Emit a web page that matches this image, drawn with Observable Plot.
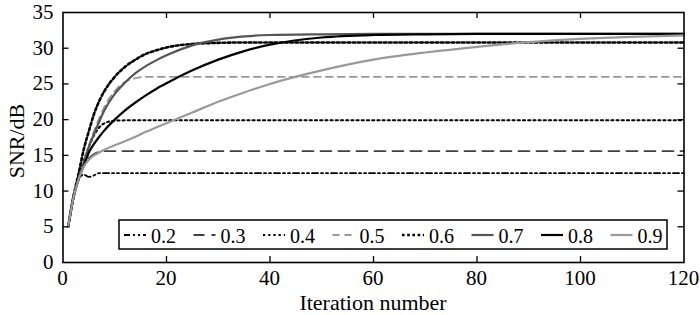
<!DOCTYPE html>
<html><head><meta charset="utf-8">
<script src="https://cdn.jsdelivr.net/npm/d3@7"></script>
<script src="https://cdn.jsdelivr.net/npm/@observablehq/plot@0.6"></script>
<style>body{margin:0;background:#fff} #wrap{position:relative;width:700px;height:315px} #wrap svg{display:block} #overlay{position:absolute;left:0;top:0;pointer-events:none}</style>
</head><body><div id="wrap"></div>
<script>
const iterations = [1,2,3,4,5,6,7,8,10,12,14,16,18,20,25,30,35,40,50,60,70,80,90,100,110,120];
const seriesNames = ["0.2","0.3","0.4","0.5","0.6","0.7","0.8","0.9"];
const snr02 = [5,9.0,11.5,12.3,12.0,12.2,12.5,12.5,12.5,12.5,12.5,12.5,12.5,12.5,12.5,12.5,12.5,12.5,12.5,12.5,12.5,12.5,12.5,12.5,12.5,12.5];
const snr03 = [5,9.0,11.8,13.6,14.6,15.2,15.5,15.6,15.6,15.6,15.6,15.6,15.6,15.6,15.6,15.6,15.6,15.6,15.6,15.6,15.6,15.6,15.6,15.6,15.6,15.6];
const snr04 = [5,9.0,11.9,14.2,16.2,17.8,18.9,19.5,19.85,19.9,19.9,19.9,19.9,19.9,19.9,19.9,19.9,19.9,19.9,19.9,19.9,19.9,19.9,19.9,19.9,19.9];
const snr05 = [5,9.0,12.0,14.2,16.4,18.4,20.2,21.8,24.0,25.3,25.8,26.0,26.0,26.0,26.0,26.0,26.0,26.0,26.0,26.0,26.0,26.0,26.0,26.0,26.0,26.0];
const snr06 = [5,9.2,12.4,15.8,18.4,20.8,22.6,24.0,26.0,27.4,28.4,29.2,29.7,30.1,30.6,30.75,30.8,30.8,30.8,30.8,30.8,30.8,30.8,30.8,30.8,30.8];
const snr07 = [5,9.0,11.8,13.8,16.2,18.0,19.7,21.3,23.6,25.2,26.5,27.5,28.3,29.0,30.4,31.2,31.65,31.85,31.95,32.0,32.0,32.0,32.0,32.0,32.0,32.0];
const snr08 = [5,9.0,11.6,13.5,15.4,16.6,17.6,18.5,20.0,21.3,22.4,23.4,24.3,25.1,26.9,28.4,29.6,30.5,31.5,31.85,31.95,32.0,32.0,32.0,32.0,32.0];
const snr09 = [5,9.0,11.6,13.4,14.4,15.0,15.4,15.8,16.4,17.0,17.6,18.3,18.9,19.5,21.0,22.5,23.8,25.0,26.9,28.4,29.4,30.2,30.85,31.3,31.6,31.8];
const seriesValues = [snr02,snr03,snr04,snr05,snr06,snr07,snr08,snr09];
const xTicks = [0,20,40,60,80,100,120];
const yTicks = [0,5,10,15,20,25,30,35];
const xLabel = "Iteration number";
const yLabel = "SNR/dB";

const lineStyles = [
  {stroke:"#000", dash:"6,3,2,3,2,3", w:1.8},
  {stroke:"#404040", dash:"11,7", w:1.8},
  {stroke:"#000", dash:"2.2,3", w:2},
  {stroke:"#999", dash:"7,5", w:1.8},
  {stroke:"#000", dash:"2.6,2.6", w:2.6},
  {stroke:"#555", dash:null, w:2.2},
  {stroke:"#000", dash:null, w:2.2},
  {stroke:"#999", dash:null, w:2.2}
];

const FONT = "Liberation Serif";
const W = 700, H = 315, mL = 62.5, mR = 16.5, mT = 12, mB = 53;
const plotH = H - mT - mB, plotW = W - mL - mR, tk = 6;
const innerX = xTicks.slice(1, -1), innerY = yTicks.slice(1, -1);

const rows = seriesNames.map((name, s) => iterations.map((it, i) => ({series: name, it, v: seriesValues[s][i]})));

const lineMarks = rows.map((data, s) => Plot.line(data, {
  x: "it", y: "v", curve: "monotone-x",
  stroke: lineStyles[s].stroke, strokeWidth: lineStyles[s].w,
  strokeDasharray: lineStyles[s].dash || undefined
}));

const chart = Plot.plot({
  width: W, height: H, marginLeft: mL, marginRight: mR, marginTop: mT, marginBottom: mB,
  x: {domain: [0, 120], ticks: xTicks},
  y: {domain: [0, 35], ticks: yTicks},
  marks: [
    Plot.axisX({ticks: xTicks, tickSize: 0, tickFormat: () => "", label: null}),
    Plot.axisY({ticks: yTicks, tickSize: 0, tickFormat: () => "", label: null}),
    ...lineMarks,
    Plot.tickX(innerX, {x: d => d, insetTop: plotH - tk, stroke: "#000", strokeWidth: 1.3}),
    Plot.tickX(innerX, {x: d => d, insetBottom: plotH - tk, stroke: "#000", strokeWidth: 1.3}),
    Plot.tickY(innerY, {y: d => d, insetRight: plotW - tk, stroke: "#000", strokeWidth: 1.3}),
    Plot.tickY(innerY, {y: d => d, insetLeft: plotW - tk, stroke: "#000", strokeWidth: 1.3}),
    Plot.frame({stroke: "#000", strokeWidth: 1.6})
  ]
});

const svg = d3.select(chart);
// Legend box and samples inside the plot
const lg = svg.append("g");
lg.append("rect").attr("x", 119).attr("y", 220).attr("width", 548).attr("height", 29)
  .attr("fill", "#fff").attr("stroke", "#000").attr("stroke-width", 1.5);
seriesNames.forEach((name, i) => {
  const lx = 151 + i * 69.5;
  const st = lineStyles[i];
  const ln = lg.append("line").attr("x1", lx - 27).attr("x2", lx - 5).attr("y1", 235).attr("y2", 235)
    .attr("stroke", st.stroke).attr("stroke-width", st.w);
  if (st.dash) ln.attr("stroke-dasharray", st.dash);
});

const wrap = document.getElementById("wrap");
wrap.appendChild(chart);

// Text layer (serif), positioned with the chart's own scales
const sx = chart.scale("x"), sy = chart.scale("y");
const ov = d3.select(wrap).append("svg").attr("id", "overlay").attr("width", W).attr("height", H);
xTicks.forEach(v => {
  ov.append("text").attr("x", sx.apply(v)).attr("y", 285).attr("text-anchor", "middle")
    .attr("font-family", FONT).attr("font-size", 21).attr("fill", "#000").text(String(v));
});
yTicks.forEach(v => {
  ov.append("text").attr("x", 53.5).attr("y", sy.apply(v) + 7).attr("text-anchor", "end")
    .attr("font-family", FONT).attr("font-size", 21).attr("fill", "#000").text(String(v));
});
ov.append("text").attr("x", (sx.apply(0) + sx.apply(120)) / 2).attr("y", 310).attr("text-anchor", "middle")
  .attr("font-family", FONT).attr("font-size", 22).attr("fill", "#000").text(xLabel);
ov.append("text").attr("transform", `translate(24,${(sy.apply(0) + sy.apply(35)) / 2 + 4}) rotate(-90)`).attr("text-anchor", "middle")
  .attr("font-family", FONT).attr("font-size", 22).attr("fill", "#000").text(yLabel);
seriesNames.forEach((name, i) => {
  const lx = 151 + i * 69.5;
  ov.append("text").attr("x", lx).attr("y", 242.5).attr("font-family", FONT).attr("font-size", 20).attr("fill", "#000").text(name);
});
</script>
</body></html>
